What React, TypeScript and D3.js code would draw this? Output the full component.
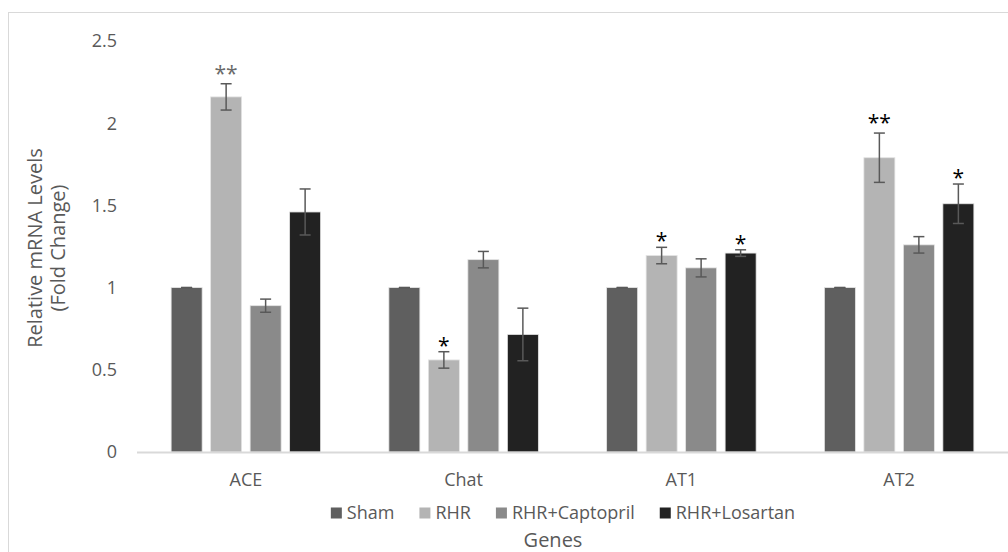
import React, { useEffect, useRef } from 'react';
import * as d3 from 'd3';

// genes on the x axis and the four treatment groups
const genes = ['ACE', 'Chat', 'AT1', 'AT2'];
const groups = ['Sham', 'RHR', 'RHR+Captopril', 'RHR+Losartan'];

// mean fold change per group, one value per gene
const sham = [1.0, 1.0, 1.0, 1.0];
const rhr = [2.16, 0.56, 1.195, 1.79];
const captopril = [0.89, 1.17, 1.12, 1.26];
const losartan = [1.46, 0.715, 1.21, 1.51];

// error bar half lengths
const shamErr = [0, 0, 0, 0];
const rhrErr = [0.08, 0.05, 0.05, 0.15];
const captoprilErr = [0.04, 0.05, 0.055, 0.05];
const losartanErr = [0.14, 0.16, 0.02, 0.12];

// significance marks per group / gene
const shamSig = ['', '', '', ''];
const rhrSig = ['**', '*', '*', '**'];
const captoprilSig = ['', '', '', ''];
const losartanSig = ['', '', '*', '*'];

const yTicks = [0, 0.5, 1, 1.5, 2, 2.5];

const colors = ['#5f5f5f', '#b4b4b4', '#8a8a8a', '#222222'];

const FONT = '"Open Sans", sans-serif';
const TEXT = '#595959';

const App = () => {
  const ref = useRef(null);

  useEffect(() => {
    const svg = d3.select(ref.current);
    svg.selectAll('*').remove();

    const values = [sham, rhr, captopril, losartan];
    const errs = [shamErr, rhrErr, captoprilErr, losartanErr];
    const sigs = [shamSig, rhrSig, captoprilSig, losartanSig];

    // outer frame
    svg.append('rect')
      .attr('x', 8.5).attr('y', 12.5)
      .attr('width', 1100).attr('height', 600)
      .attr('fill', 'none').attr('stroke', '#d9d9d9');

    const x0 = d3.scaleBand().domain(genes).range([137, 1008]);
    const x1 = d3.scaleBand().domain(groups).range([-74.75, 74.75]).paddingInner(0.215);
    const y = d3.scaleLinear().domain([0, 2.5]).range([452, 41]);

    // y tick labels
    svg.append('g').selectAll('text').data(yTicks).enter().append('text')
      .attr('x', 117).attr('y', (d) => y(d)).attr('dy', '0.35em')
      .attr('text-anchor', 'end')
      .style('font-family', FONT).style('font-size', '18px').attr('fill', TEXT)
      .text((d) => String(d));

    // bars
    groups.forEach((g, gi) => {
      const rows = genes.map((gene, i) => ({ gene, v: values[gi][i], e: errs[gi][i], s: sigs[gi][i] }));
      const layer = svg.append('g');
      layer.selectAll('rect').data(rows).enter().append('rect')
        .attr('x', (d) => x0(d.gene) + x0.bandwidth() / 2 + x1(g))
        .attr('y', (d) => y(d.v))
        .attr('width', x1.bandwidth())
        .attr('height', (d) => y(0) - y(d.v))
        .attr('fill', colors[gi])
        .attr('stroke', '#e4e4e4').attr('stroke-width', 0.8);

      const eb = layer.selectAll('g.err').data(rows).enter().append('g');
      const cx = (d) => x0(d.gene) + x0.bandwidth() / 2 + x1(g) + x1.bandwidth() / 2;
      eb.append('line')
        .attr('x1', cx).attr('x2', cx)
        .attr('y1', (d) => y(d.v + d.e)).attr('y2', (d) => y(d.v - d.e))
        .attr('stroke', TEXT).attr('stroke-width', 1.5);
      [1, -1].forEach((sgn) => {
        eb.append('line')
          .attr('x1', (d) => cx(d) - 5.5).attr('x2', (d) => cx(d) + 5.5)
          .attr('y1', (d) => y(d.v + sgn * d.e)).attr('y2', (d) => y(d.v + sgn * d.e))
          .attr('stroke', TEXT).attr('stroke-width', 1.5);
      });

      layer.selectAll('text.sig').data(rows.filter((d) => d.s)).enter().append('text')
        .attr('x', cx)
        .attr('y', (d) => y(d.v + d.e) + (d.s === '**' ? -3 : 1))
        .attr('text-anchor', 'middle')
        .style('font-family', FONT).style('font-size', '21px')
        .attr('fill', (d) => (d.gene === 'ACE' ? '#6a6a6a' : '#000'))
        .text((d) => d.s);
    });

    // x axis line
    svg.append('line')
      .attr('x1', 137).attr('x2', 1008).attr('y1', y(0) + 0.5).attr('y2', y(0) + 0.5)
      .attr('stroke', '#d9d9d9').attr('stroke-width', 2);

    // category labels
    svg.append('g').selectAll('text').data(genes).enter().append('text')
      .attr('x', (d) => x0(d) + x0.bandwidth() / 2).attr('y', 480).attr('dy', '0.35em')
      .attr('text-anchor', 'middle')
      .style('font-family', FONT).style('font-size', '18px').attr('fill', TEXT)
      .text((d) => d);

    // y axis title
    [['Relative mRNA Levels', 42], ['(Fold Change)', 65]].forEach(([t, xx]) => {
      svg.append('text')
        .attr('transform', `translate(${xx},248) rotate(-90)`)
        .attr('text-anchor', 'middle')
        .style('font-family', FONT).style('font-size', '20px').attr('fill', TEXT)
        .text(t);
    });

    // legend, laid out from measured label widths
    const legend = svg.append('g');
    const items = groups.map((g, i) => {
      const it = legend.append('g');
      it.append('rect').attr('width', 11).attr('height', 11).attr('y', -5.5).attr('fill', colors[i]);
      const t = it.append('text').attr('x', 16).attr('dy', '0.35em')
        .style('font-family', FONT).style('font-size', '18px').attr('fill', TEXT)
        .text(g);
      return { it, w: 16 + t.node().getComputedTextLength() };
    });
    const gap = 25;
    const total = d3.sum(items, (d) => d.w) + gap * (items.length - 1);
    let lx = 563 - total / 2;
    items.forEach((d) => {
      d.it.attr('transform', `translate(${lx},513)`);
      lx += d.w + gap;
    });

    svg.append('text')
      .attr('x', 553).attr('y', 540).attr('dy', '0.35em')
      .attr('text-anchor', 'middle')
      .style('font-family', FONT).style('font-size', '20px').attr('fill', TEXT)
      .text('Genes');
  }, []);

  return (
    <svg ref={ref} width={1008} height={552}
      style={{ position: 'absolute', left: 0, top: 0, display: 'block', background: '#fff' }} />
  );
};

export default App;
